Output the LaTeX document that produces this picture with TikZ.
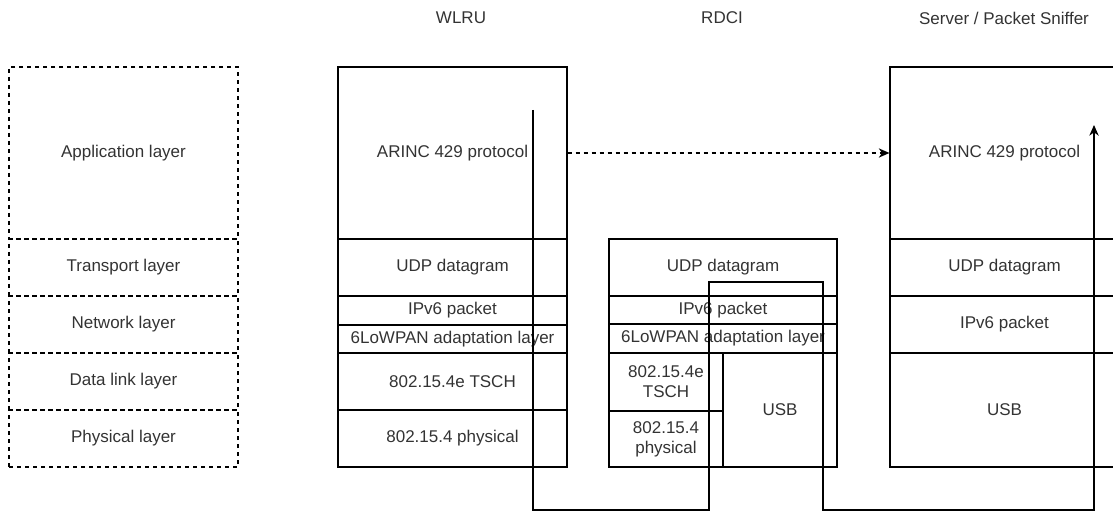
\documentclass[tikz,border=0pt]{standalone}
\usepackage{fontspec}
\setmainfont{Liberation Sans}
\usetikzlibrary{fit,arrows.meta}
\begin{document}
\begin{tikzpicture}[x=0.75pt,y=-0.75pt,
  txt/.style={text=black!80, font=\fontsize{12.75}{15}\selectfont},
  cell/.style={draw=black, line width=0.9pt, inner sep=0pt},
  dcell/.style={cell, dash pattern=on 3pt off 3pt},
  every label/.style={txt, align=center, inner sep=0pt},
  title/.style={txt},
  link/.style={draw=black, line width=0.9pt},
  tip/.style={-{Stealth[length=8pt,width=7pt,inset=2.5pt]}}]
\useasboundingbox (0,0) rectangle (1113,513);
\clip (0,0) rectangle (1113,513);

% titles
\node[title] (tw) at (461,18) {WLRU};
\node[title] (tr) at (722,18) {RDCI};
\node[title] (ts) at (1004,18) {Server / Packet Sniffer};

% reference layers
\node[dcell, fit={(9,67) (238,239)}, label={center:Application layer}] (lapp) {};
\node[dcell, fit={(9,239) (238,296)}, label={center:Transport layer}] (ltra) {};
\node[dcell, fit={(9,296) (238,353)}, label={center:Network layer}] (lnet) {};
\node[dcell, fit={(9,353) (238,410)}, label={center:Data link layer}] (ldat) {};
\node[dcell, fit={(9,410) (238,467)}, label={center:Physical layer}] (lphy) {};

% WLRU
\node[cell, fit={(338,67) (567,239)}, label={center:ARINC 429 protocol}] (wapp) {};
\node[cell, fit={(338,239) (567,296)}, label={center:UDP datagram}] (wudp) {};
\node[cell, fit={(338,296) (567,325)}, label={center:IPv6 packet}] (wip) {};
\node[cell, fit={(338,325) (567,353)}, label={center:6LoWPAN adaptation layer}] (wlo) {};
\node[cell, fit={(338,353) (567,410)}, label={center:802.15.4e TSCH}] (wmac) {};
\node[cell, fit={(338,410) (567,467)}, label={center:802.15.4 physical}] (wphy) {};

% RDCI
\node[cell, fit={(609,239) (837,296)}, label={center:UDP datagram}] (rudp) {};
\node[cell, fit={(609,296) (837,324)}, label={center:IPv6 packet}] (rip) {};
\node[cell, fit={(609,324) (837,353)}, label={center:6LoWPAN adaptation layer}] (rlo) {};
\node[cell, fit={(609,353) (723,411)}, label={center:802.15.4e\\TSCH}] (rmac) {};
\node[cell, fit={(609,411) (723,467)}, label={center:802.15.4\\physical}] (rphy) {};
\node[cell, fit={(723,353) (837,467)}, label={center:USB}] (rusb) {};

% Server
\node[cell, fit={(890,67) (1119,239)}, label={center:ARINC 429 protocol}] (sapp) {};
\node[cell, fit={(890,239) (1119,296)}, label={center:UDP datagram}] (sudp) {};
\node[cell, fit={(890,296) (1119,353)}, label={center:IPv6 packet}] (sip) {};
\node[cell, fit={(890,353) (1119,467)}, label={center:USB}] (susb) {};

% connectors
\draw[link, tip, dash pattern=on 3pt off 3pt] (wapp.east) -- (sapp.west);

\coordinate (pstart) at (533,110);
\coordinate (c1) at (533,510);
\coordinate (c2) at (709,510);
\coordinate (c3) at (709,282);
\coordinate (c4) at (823,282);
\coordinate (c5) at (823,510);
\coordinate (c6) at (1094,510);
\coordinate (pend) at (1094,125);
\draw[link, tip] (pstart) -- (c1) -- (c2) -- (c3) -- (c4) -- (c5) -- (c6) -- (pend);
\end{tikzpicture}
\end{document}
